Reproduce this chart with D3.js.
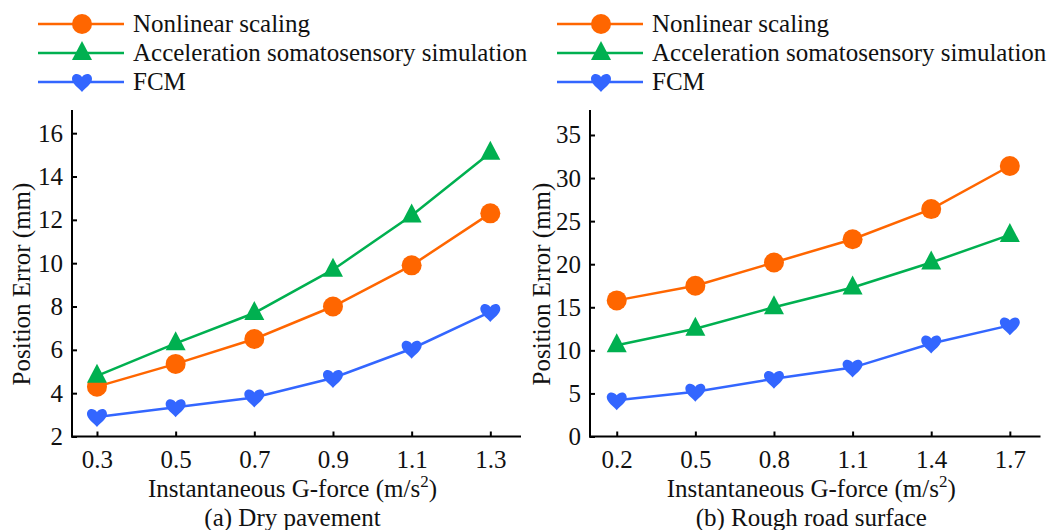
<!DOCTYPE html>
<html>
<head>
<meta charset="utf-8">
<script src="https://cdn.jsdelivr.net/npm/d3@7"></script>
<style>
  body { margin: 0; background: #fff; }
  svg, svg text { font-family: "Times New Roman", "Liberation Serif", Tinos, "DejaVu Serif", serif; }
</style>
</head>
<body>
<div id="chart"></div>
<script>
// series names + colours
const seriesNames = ["Nonlinear scaling", "Acceleration somatosensory simulation", "FCM"];
const seriesColors = ["#ff6600", "#00b050", "#3366ff"];
const seriesShapes = ["circle", "triangle", "heart"];

// (a) dry pavement
const dryX = [0.3, 0.5, 0.7, 0.9, 1.1, 1.3];
const dryNonlinear = [4.3, 5.35, 6.5, 8.0, 9.9, 12.3];
const dryAccel = [4.8, 6.3, 7.7, 9.7, 12.2, 15.1];
const dryFCM = [2.9, 3.35, 3.8, 4.7, 6.05, 7.75];
const dryYTicks = [2, 4, 6, 8, 10, 12, 14, 16];

// (b) rough road surface
const roughX = [0.2, 0.5, 0.8, 1.1, 1.4, 1.7];
const roughNonlinear = [15.8, 17.5, 20.2, 22.9, 26.4, 31.4];
const roughAccel = [10.6, 12.5, 15.0, 17.3, 20.2, 23.4];
const roughFCM = [4.2, 5.2, 6.7, 8.0, 10.8, 12.9];
const roughYTicks = [0, 5, 10, 15, 20, 25, 30, 35];

const W = 1054, H = 530;
const fontSize = 25;
const fontFamily = '"Times New Roman", "Liberation Serif", Tinos, "DejaVu Serif", serif';

const svg = d3.select("#chart").append("svg")
    .attr("width", W)
    .attr("height", H)
    .style("font-family", fontFamily);

function markerPath(shape) {
    if (shape === "triangle") return "M0,-12L10,7L-10,7Z";
    if (shape === "heart") return "M0,10C-3,6 -10,2 -10,-3C-10,-8 -4,-10 0,-5C4,-10 10,-8 10,-3C10,2 3,6 0,10Z";
    return d3.symbol().type(d3.symbolCircle).size(Math.PI * 100)();
}

function drawPanel(opts) {
    const g = svg.append("g");
    const x = d3.scaleLinear().domain(opts.xDomain).range([opts.left, opts.right]);
    const y = d3.scaleLinear().domain(opts.yDomain).range([opts.bottom, opts.top]);

    const xAxis = d3.axisBottom(x).tickValues(opts.xs).tickSizeInner(-5).tickSizeOuter(0)
        .tickPadding(14).tickFormat(d3.format(".1f"));
    const yAxis = d3.axisLeft(y).tickValues(opts.yTicks).tickSizeInner(-5).tickSizeOuter(0)
        .tickPadding(9);

    const gx = g.append("g").attr("transform", `translate(0,${opts.bottom})`).call(xAxis);
    const gy = g.append("g").attr("transform", `translate(${opts.left},0)`).call(yAxis);
    [gx, gy].forEach(a => {
        a.attr("font-family", null).style("font-family", fontFamily);
        a.select(".domain").attr("stroke", "#000").attr("stroke-width", 2);
        a.selectAll(".tick line").attr("stroke", "#000").attr("stroke-width", 2);
        a.selectAll(".tick text").attr("font-size", fontSize)
            .style("font-family", fontFamily).attr("fill", "#111");
    });
    gx.selectAll(".tick text").attr("dy", "0.71em");
    // extend axis lines to the corner
    gx.select(".domain").attr("d", `M${opts.left - 1},0H${opts.right}`);
    gy.select(".domain").attr("d", `M0,${opts.bottom + 1}V${opts.top}`);

    const line = d3.line().x(d => x(d[0])).y(d => y(d[1]));

    opts.series.forEach((vals, i) => {
        const pts = opts.xs.map((xv, j) => [xv, vals[j]]);
        g.append("path")
            .datum(pts)
            .attr("fill", "none")
            .attr("stroke", seriesColors[i])
            .attr("stroke-width", 2.5)
            .attr("d", line);
        g.selectAll(null).data(pts).join("path")
            .attr("transform", d => `translate(${x(d[0])},${y(d[1])})`)
            .attr("d", markerPath(seriesShapes[i]))
            .attr("fill", seriesColors[i]);
    });

    // y label
    g.append("text")
        .attr("transform", `translate(${opts.yLabelX},${opts.yLabelY}) rotate(-90)`)
        .attr("text-anchor", "middle")
        .attr("font-size", fontSize)
        .attr("fill", "#111")
        .text("Position Error (mm)");

    // x label with superscript
    const mid = (opts.left + opts.right) / 2 - 4;
    const xl = g.append("text")
        .attr("x", mid)
        .attr("y", 497)
        .attr("text-anchor", "middle")
        .attr("font-size", fontSize)
        .attr("fill", "#111");
    xl.append("tspan").text("Instantaneous G-force (m/s");
    xl.append("tspan").attr("dy", -10).attr("font-size", 17).text("2");
    xl.append("tspan").attr("dy", 10).text(")");

    g.append("text")
        .attr("x", mid)
        .attr("y", 526)
        .attr("text-anchor", "middle")
        .attr("font-size", fontSize)
        .attr("fill", "#111")
        .text(opts.caption);

    // legend
    const leg = g.append("g");
    seriesNames.forEach((name, i) => {
        const ly = 24 + i * 29;
        leg.append("line")
            .attr("x1", opts.legendX).attr("x2", opts.legendX + 86)
            .attr("y1", ly).attr("y2", ly)
            .attr("stroke", seriesColors[i]).attr("stroke-width", 2.5);
        leg.append("path")
            .attr("transform", `translate(${opts.legendX + 44},${ly})`)
            .attr("d", markerPath(seriesShapes[i]))
            .attr("fill", seriesColors[i]);
        leg.append("text")
            .attr("x", opts.legendX + 95)
            .attr("y", ly)
            .attr("dy", "0.33em")
            .attr("font-size", fontSize)
            .attr("fill", "#111")
            .text(name);
    });
}

drawPanel({
    left: 72, right: 521, top: 110, bottom: 436.5,
    xDomain: [0.2365, 1.378], yDomain: [2, 17.07],
    xs: dryX, yTicks: dryYTicks,
    series: [dryNonlinear, dryAccel, dryFCM],
    yLabelX: 30, yLabelY: 284,
    caption: "(a) Dry pavement",
    legendX: 38
});

drawPanel({
    left: 590, right: 1040.5, top: 110, bottom: 436.5,
    xDomain: [0.098, 1.817], yDomain: [0, 37.9],
    xs: roughX, yTicks: roughYTicks,
    series: [roughNonlinear, roughAccel, roughFCM],
    yLabelX: 550, yLabelY: 284,
    caption: "(b) Rough road surface",
    legendX: 557
});
</script>
</body>
</html>
